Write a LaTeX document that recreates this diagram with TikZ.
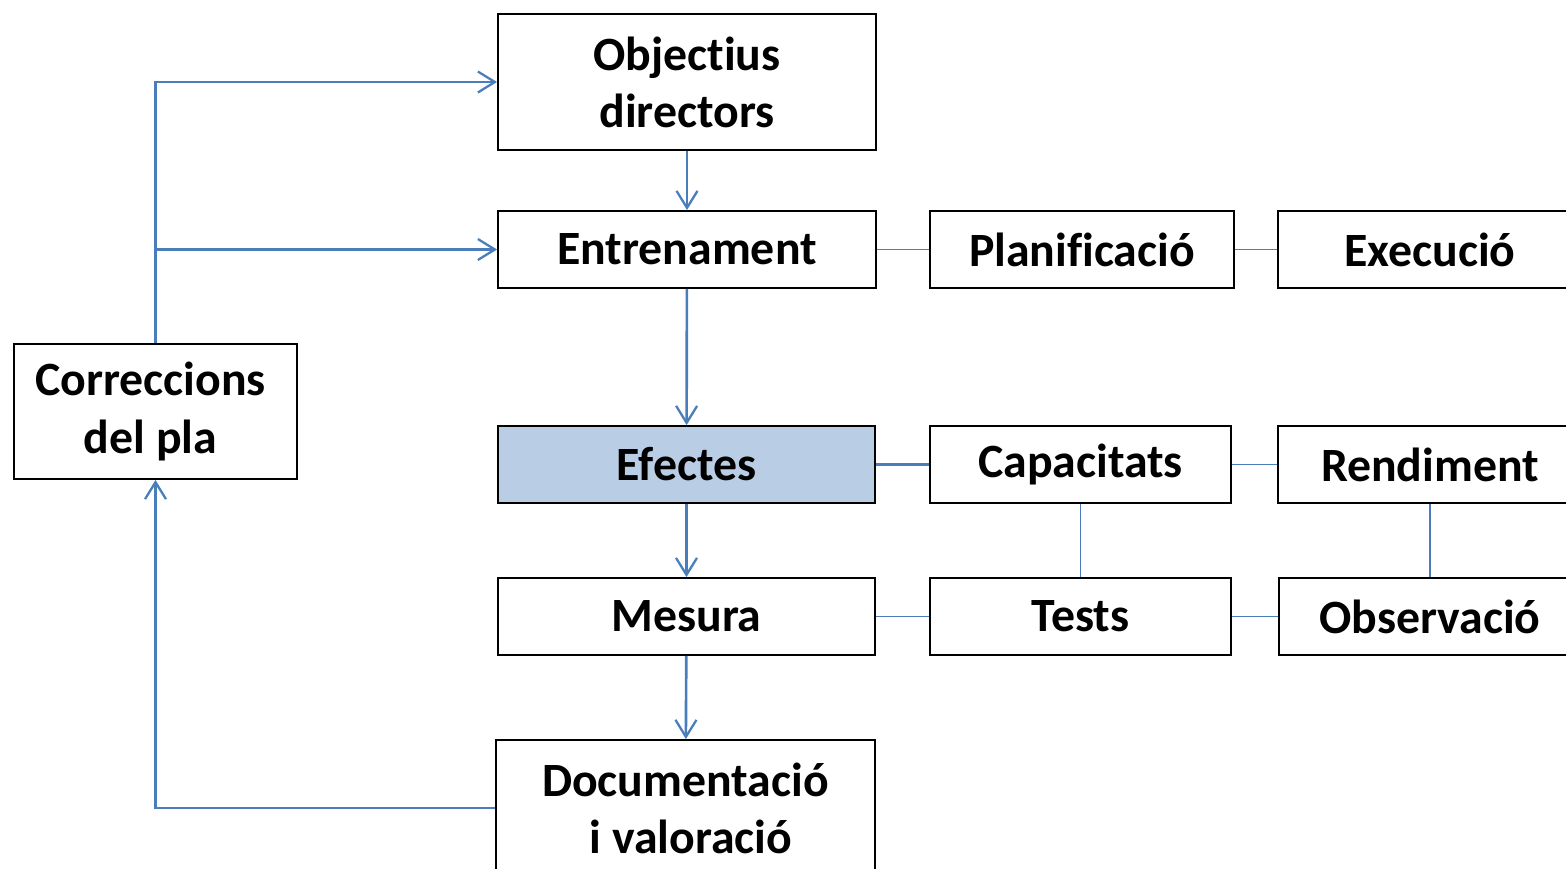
\documentclass[tikz,border=0pt]{standalone}
\usepackage{fontspec}
\setmainfont[Ligatures=NoCommon]{Carlito}
\usetikzlibrary{arrows.meta}
\definecolor{lnblue}{HTML}{4A7EBB}
\definecolor{boxfill}{HTML}{B9CDE5}
\begin{document}
\begin{tikzpicture}[x=0.02cm,y=-0.02cm,
  box/.style={draw=black,line width=1.1pt,fill=white,minimum height=77*0.02cm,
    inner sep=0pt,align=center,font=\fontsize{27.2}{32.5}\selectfont\bfseries},
  flow/.style={draw=lnblue,line width=1.5pt,-{Straight Barb[length=0.34cm,width=0.42cm,line width=1.3pt]}},
  link/.style={draw=lnblue,line width=0.95pt}]
\useasboundingbox (0,0) rectangle (1566,869);
\clip (0,0) rectangle (1566,869);
\node[box,minimum width=378*0.02cm,minimum height=136*0.02cm] (obj) at (687,82) {Objectius\\directors};
\node[box,minimum width=378*0.02cm] (ent) at (687,249.5) {Entrenament};
\node[box,minimum width=304*0.02cm] (plan) at (1082,249.5) {Planificació};
\node[box,minimum width=304*0.02cm] (exe) at (1430,249.5) {Execució};
\node[box,minimum width=283*0.02cm,minimum height=135*0.02cm] (cor) at (155.5,411.5) {Correccions\hspace*{0.2cm}\\del pla\hspace*{0.2cm}};
\node[box,fill=boxfill,minimum width=377*0.02cm] (efe) at (686.5,464.5) {Efectes};
\node[box,minimum width=301*0.02cm] (cap) at (1080.5,464.5) {Capacitats};
\node[box,minimum width=304*0.02cm] (ren) at (1430,464.5) {Rendiment};
\node[box,minimum width=377*0.02cm] (mes) at (686.5,616.5) {Mesura};
\node[box,minimum width=301*0.02cm] (tes) at (1080.5,616.5) {Tests};
\node[box,minimum width=302*0.02cm] (obs) at (1430,616.5) {Observació};
\node[box,minimum width=379*0.02cm,minimum height=136*0.02cm] (doc) at (685.5,808) {Documentació\\\hspace*{0.22cm}i valoració};
% flow arrows
\draw[flow] (obj) -- (ent);
\draw[flow] (ent) -- (efe);
\draw[flow] (efe) -- (mes);
\draw[flow] (mes) -- (doc);
\draw[flow] (doc.west) -| (cor.south);
\draw[flow] (cor.north) |- (obj.west);
\draw[flow] (cor.north |- ent.west) -- (ent.west);
% links
\draw[link] (ent) -- (plan);
\draw[link] (plan) -- (exe);
\draw[link,line width=1.3pt] (efe) -- (cap);
\draw[link] (cap) -- (ren);
\draw[link] (mes) -- (tes);
\draw[link] (tes) -- (obs);
\draw[link] (cap) -- (tes);
\draw[link] (ren) -- (obs);
\end{tikzpicture}
\end{document}
